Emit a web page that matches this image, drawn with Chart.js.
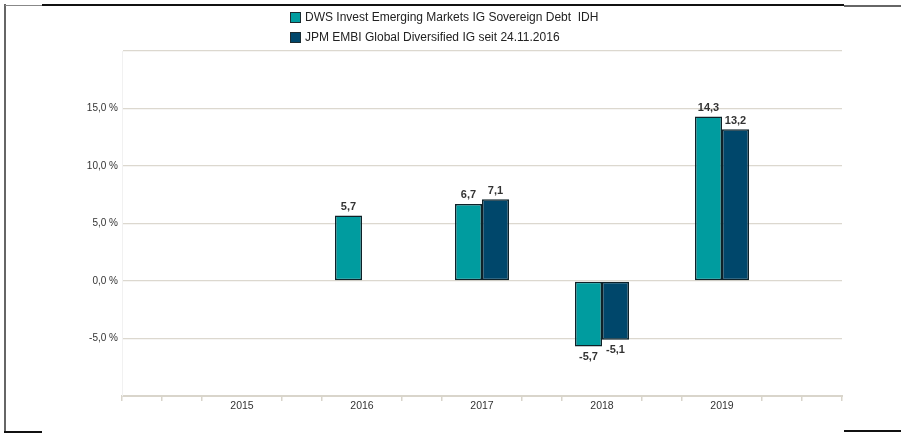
<!DOCTYPE html>
<html>
<head>
<meta charset="utf-8">
<script src="https://cdn.jsdelivr.net/npm/chart.js@4"></script>
<style>
  body { margin: 0; background: #fff; }
  #wrap { position: relative; width: 901px; height: 433px; overflow: hidden; }
  #legend { position: absolute; left: 290px; top: 7px; font: 12px "Liberation Sans", Arial, sans-serif; color: #222; }
  #legend .row { display: flex; align-items: center; height: 20px; white-space: pre; }
  #legend .box { width: 9px; height: 9px; border: 1px solid #1c2b30; margin-right: 4px; }
  .ln { position: absolute; }
</style>
</head>
<body>
<div id="wrap">
  <canvas id="chart" width="901" height="433"></canvas>
  <div id="legend"></div>
  <!-- scanned frame edges -->
  <div class="ln" style="left:4px;top:4px;width:2px;height:429px;background:#666"></div>
  <div class="ln" style="left:5px;top:5px;width:37px;height:1px;background:#888"></div>
  <div class="ln" style="left:42px;top:4px;width:802px;height:1.5px;background:#111"></div>
  <div class="ln" style="left:844px;top:5px;width:57px;height:1.5px;background:#666"></div>
  <div class="ln" style="left:4px;top:431px;width:38px;height:1.5px;background:#111"></div>
  <div class="ln" style="left:844px;top:430px;width:57px;height:1.5px;background:#111"></div>
</div>
<script>
// values
const years = ["2015", "2016", "2017", "2018", "2019"];
const dwsValues = [null, 5.7, 6.7, -5.7, 14.3];
const jpmValues = [null, null, 7.1, -5.1, 13.2];
const seriesNames = [
  "DWS Invest Emerging Markets IG Sovereign Debt  IDH",
  "JPM EMBI Global Diversified IG seit 24.11.2016",
];
const seriesColors = ["#009c9f", "#00476b"];
const yTicks = [-10, 20, 5];

// empty slot on each side, so the years sit between the edges
const labels = [""].concat(years, [""]);
const pad = (arr) => [null].concat(arr, [null]);

const fmt = (v) => v.toFixed(1).replace(".", ",");

Chart.defaults.font.family = '"Liberation Sans", Arial, sans-serif';
Chart.defaults.color = "#333";

const valueLabels = {
  id: "valueLabels",
  afterDatasetsDraw(chart) {
    const ctx = chart.ctx;
    ctx.save();
    ctx.font = 'bold 11px "Liberation Sans", Arial, sans-serif';
    ctx.fillStyle = "#333";
    ctx.textAlign = "center";
    ctx.textBaseline = "alphabetic";
    chart.data.datasets.forEach((ds, di) => {
      const meta = chart.getDatasetMeta(di);
      meta.data.forEach((el, i) => {
        const v = ds.data[i];
        if (v === null || v === undefined) return;
        const y = v >= 0 ? el.y - 5.5 : el.y + 13.5;
        ctx.fillText(fmt(v), el.x, y);
      });
    });
    ctx.restore();
  },
};

const datasets = [pad(dwsValues), pad(jpmValues)].map((data, i) => ({
  label: seriesNames[i],
  data: data,
  backgroundColor: seriesColors[i],
  borderColor: "#0e2128",
  borderWidth: 1.5,
  borderSkipped: false,
  categoryPercentage: 0.45,
  barPercentage: 1.0,
}));

const chart = new Chart(document.getElementById("chart"), {
  type: "bar",
  data: { labels: labels, datasets: datasets },
  options: {
    responsive: false,
    animation: false,
    layout: { padding: { left: 0, right: 59, top: 51, bottom: 0 } },
    plugins: { legend: { display: false }, tooltip: { enabled: false } },
    scales: {
      x: {
        type: "category",
        offset: false,
        weight: 1,
        grid: { display: false, drawTicks: false },
        border: { display: true, color: "#d9d5cb", width: 2 },
        ticks: { autoSkip: false, maxRotation: 0, padding: 4, font: { size: 10.5 }, color: "#333" },
        afterFit: (s) => { s.height = 37; },
      },
      // minor tick marks under the axis line
      x2: {
        type: "linear",
        axis: "x",
        position: "bottom",
        weight: 0,
        min: 0,
        max: 18,
        offset: false,
        ticks: { display: false, stepSize: 1, autoSkip: false },
        border: { display: false },
        grid: {
          offset: false,
          drawOnChartArea: false,
          drawTicks: true,
          tickLength: 5,
          lineWidth: 1.5,
          color: (c) => {
            const v = c.tick ? c.tick.value : 0;
            return v % 3 === 0 && v > 0 && v < 18 ? "rgba(0,0,0,0)" : "#d9d5cb";
          },
        },
        afterFit: (s) => { s.height = 0; },
      },
      y: {
        min: yTicks[0],
        max: yTicks[1],
        ticks: {
          stepSize: yTicks[2],
          padding: 4,
          font: { size: 10 },
          color: "#333",
          callback: (v) => (v > yTicks[0] && v < yTicks[1] ? fmt(v) + " %" : ""),
        },
        grid: { color: "#dcd8cf", lineWidth: 1.3, drawTicks: false },
        border: { display: true, color: "#f1f1f1", width: 1 },
        afterFit: (s) => { s.width = 122; },
      },
    },
  },
  plugins: [valueLabels],
});

// legend as html so the two entries stack like the original
const legend = document.getElementById("legend");
chart.data.datasets.forEach((ds) => {
  const row = document.createElement("div");
  row.className = "row";
  const box = document.createElement("span");
  box.className = "box";
  box.style.background = ds.backgroundColor;
  const txt = document.createElement("span");
  txt.textContent = ds.label;
  row.appendChild(box);
  row.appendChild(txt);
  legend.appendChild(row);
});
</script>
</body>
</html>
